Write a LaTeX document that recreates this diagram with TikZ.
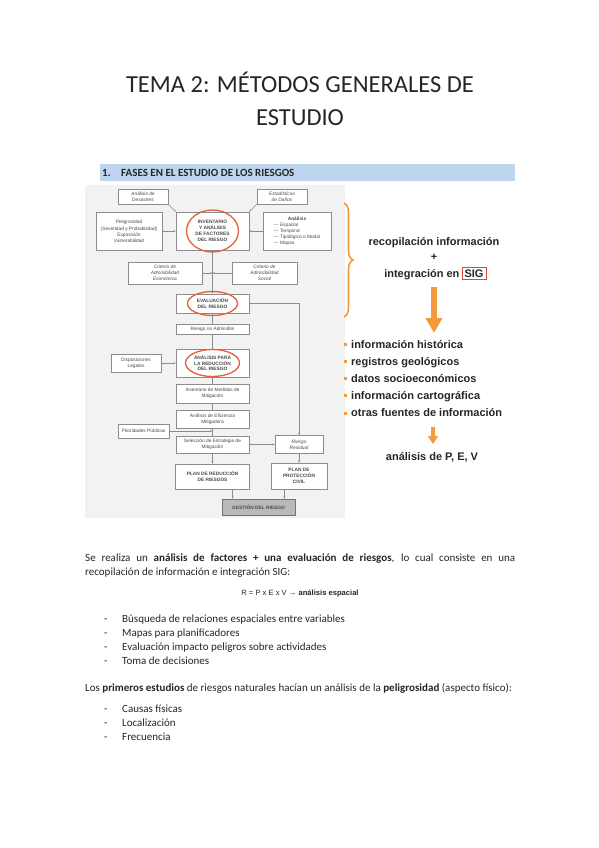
\documentclass[tikz,border=0pt]{standalone}
\usepackage{fontspec}
\setmainfont{Carlito}
\newfontfamily\arial{Liberation Sans}
\usepackage{tikz}
\usetikzlibrary{arrows.meta,calc,positioning,decorations.pathreplacing}
\definecolor{ink}{HTML}{262626}
\definecolor{bar}{HTML}{BDD6EE}
\definecolor{chartbg}{HTML}{F2F2F2}
\definecolor{boxline}{HTML}{8C8C8C}
\definecolor{boxtext}{HTML}{4A4A4A}
\definecolor{ring}{HTML}{E35F3D}
\definecolor{orng}{HTML}{F49A3C}
\definecolor{sigred}{HTML}{E0453A}
\definecolor{gest}{HTML}{B9B9B9}

\begin{document}
\begin{tikzpicture}[x=1pt,y=-1pt,
  caja/.style 2 args={draw=boxline,fill=white,line width=0.6pt,inner sep=0pt,align=center,text=boxtext,
    minimum width=#1,minimum height=#2,font=\arial\fontsize{4.8}{5.8}\selectfont},
  negrita/.style={font=\arial\bfseries\fontsize{4.8}{5.8}\selectfont},
  cursiva/.style={font=\arial\itshape\fontsize{4.8}{5.8}\selectfont},
  flecha/.style={draw=boxline,line width=0.5pt,-{Stealth[length=2.2pt,width=2pt]}},
  linea/.style={draw=boxline,line width=0.5pt},
  anillo/.style={draw=ring,line width=1.3pt},
  gordo/.style={font=\arial\bfseries\fontsize{11}{13}\selectfont,text=ink,inner sep=0pt},
  texto/.style={anchor=base west,inner sep=0pt,font=\fontsize{11}{13.4}\selectfont,text=ink}]
\fill[white] (0,0) rectangle (599,848);
\useasboundingbox (0,0) rectangle (599,848);

% title and section bar
\node[anchor=base,font=\fontsize{24.5}{29}\selectfont,text=ink] (tit1) at (300,93) {TEMA 2: MÉTODOS GENERALES DE};
\node[anchor=base,font=\fontsize{24.5}{29}\selectfont,text=ink] (tit2) at (300,125) {ESTUDIO};
\fill[bar] (100,164) rectangle (515,181);
\node[texto,font=\bfseries\fontsize{11}{13}\selectfont] (num) at (102,176.5) {1.};
\node[texto,font=\bfseries\fontsize{11}{13}\selectfont] (head) at (121,176.5) {FASES EN EL ESTUDIO DE LOS RIESGOS};

% flowchart
\fill[chartbg] (85,185) rectangle (345,518);
\node[caja={50pt}{15pt},cursiva] (desastres) at (143,196.5) {Análisis de\\Desastres};
\node[caja={50pt}{15pt},cursiva] (danos) at (282,196.5) {Estadísticas\\de Daños};
\node[caja={66pt}{38pt}] (pelig) at (129,231) {Peligrosidad\\[2pt](Severidad y Probabilidad)\\Exposición\\Vulnerabilidad};
\node[caja={73pt}{38pt},negrita] (invent) at (212.5,231) {INVENTARIO\\Y ANÁLISIS\\DE FACTORES\\DEL RIESGO};
\node[caja={68pt}{38pt}] (analisis) at (297,231) {\begin{tabular}{@{}l@{}}\multicolumn{1}{@{}c@{}}{\bfseries Análisis}\\[1pt]--- Espacial\\--- Temporal\\--- Tipológico o Modal\\--- Mapas\end{tabular}};
\node[caja={74pt}{22pt},cursiva] (critEco) at (165,273) {Criterio de\\Admisibilidad\\Económica};
\node[caja={65pt}{22pt},cursiva] (critSoc) at (264.5,273) {Criterio de\\Admisibilidad\\Social};
\node[caja={73pt}{19pt},negrita] (eval) at (212.5,303.5) {EVALUACIÓN\\DEL RIESGO};
\node[caja={73pt}{10pt}] (noadm) at (212.5,329) {Riesgo no Admisible};
\node[caja={73pt}{28pt},negrita] (reduc) at (212.5,363) {ANÁLISIS PARA\\LA REDUCCIÓN\\DEL RIESGO};
\node[caja={50pt}{18pt}] (dispo) at (136,363) {Disposiciones\\Legales};
\node[caja={73pt}{19pt}] (invmed) at (212.5,393.5) {Inventario de Medidas de\\Mitigación};
\node[caja={73pt}{18pt}] (efic) at (212.5,419) {Análisis de Eficiencia\\Mitigadora};
\node[caja={51pt}{14pt}] (prior) at (143.5,431) {Prioridades Públicas};
\node[caja={73pt}{17pt}] (selec) at (212.5,444.5) {Selección de Estrategia de\\Mitigación};
\node[caja={48pt}{18pt},cursiva] (resid) at (299,444.5) {Riesgo\\Residual};
\node[caja={74pt}{25pt},negrita] (planred) at (212.5,476.5) {PLAN DE REDUCCIÓN\\DE RIESGOS};
\node[caja={56pt}{26pt},negrita] (planprot) at (299,476) {PLAN DE\\PROTECCIÓN\\CIVIL};
\node[caja={73pt}{16pt},negrita,fill=gest,draw=black!55,text=black!70] (gestion) at (258.5,507) {GESTIÓN DEL RIESGO};

\draw[flecha] (desastres.south east) -- (invent.north west);
\draw[flecha] (danos.south west) -- (invent.north east);
\draw[flecha] (pelig) -- (invent); \draw[flecha] (analisis) -- (invent);
\draw[flecha] (invent) -- (eval);
\coordinate (cruce) at (invent |- critEco);
\draw[flecha] (critEco) -- (cruce); \draw[flecha] (critSoc) -- (cruce);
\draw[linea] (eval) -- (noadm); \draw[linea] (noadm) -- (reduc); \draw[linea] (reduc) -- (invmed);
\draw[linea] (invmed) -- (efic); \draw[linea] (efic) -- (selec);
\draw[flecha] (dispo) -- (reduc);
\draw[flecha] (prior) -- (prior -| selec);
\draw[flecha] (selec) -- (planred);
\draw[flecha] (selec.east) -- (selec.east -| resid.west);
\draw[flecha] (eval.east) -| (resid.north);
\draw[flecha] (resid) -- (planprot);
\draw[flecha] ([xshift=11pt]gestion.north west |- planred.south) -- ([xshift=11pt]gestion.north west);
\draw[flecha] ([xshift=-11pt]gestion.north east |- planprot.south) -- ([xshift=-11pt]gestion.north east);
\draw[anillo] (invent) ellipse [x radius=26, y radius=21];
\draw[anillo] (eval) ellipse [x radius=25, y radius=12];
\draw[anillo] (reduc) ellipse [x radius=27, y radius=13.5];

% right column
\draw[orng,line width=1.6pt,decorate,decoration={brace,amplitude=9pt}] (344,203) -- (344,317);
\node[gordo] (recop) at (434,243) {recopilación información};
\node[gordo] (mas) at (434,257) {+};
\node[gordo,draw=sigred,line width=0.8pt,inner xsep=2.5pt,inner ysep=2pt] (sig) at (474,273.5) {SIG};
\node[gordo,anchor=base east] (integ) at ([xshift=-2pt]sig.base west) {integración en};
\coordinate (bigtop) at (434,287); \coordinate (bigend) at (434,333);
\draw[orng,line width=6pt,-{Triangle[length=15pt,width=16pt]}] (bigtop) -- (bigend);
\foreach \t [count=\i] in {información histórica,registros geológicos,datos socioeconómicos,información cartográfica,otras fuentes de información}{
  \node[gordo,anchor=base west] (b\i) at (351,330.8+17.2*\i) {\t};
  \fill[orng] ($(b\i.base west)+(-7.5,-2.3)$) rectangle +(3,-3);
}
\coordinate (smtop) at (433,427); \coordinate (smend) at (433,444);
\draw[orng,line width=3.5pt,-{Triangle[length=8pt,width=10pt]}] (smtop) -- (smend);
\node[gordo] (pev) at (432,457) {análisis de P, E, V};

% body text
\node[texto] (p1) at (85,561) {\makebox[430pt][s]{Se realiza un \textbf{análisis de factores + una evaluación de riesgos}, lo cual consiste en una}};
\node[texto] (p2) at (85,575) {recopilación de información e integración SIG:};
\node[texto,anchor=base,font=\arial\fontsize{7.6}{9}\selectfont] (formula) at (300,595) {R = P x E x V → \textbf{análisis espacial}};
\foreach \t [count=\i] in {Búsqueda de relaciones espaciales entre variables,Mapas para planificadores,Evaluación impacto peligros sobre actividades,Toma de decisiones}{
  \node[texto] (gd\i) at (104,608+14*\i) {-}; \node[texto] (g\i) at (122,608+14*\i) {\t};
}
\node[texto] (p3) at (85,691) {Los \textbf{primeros estudios} de riesgos naturales hacían un análisis de la \textbf{peligrosidad} (aspecto físico):};
\foreach \t [count=\i] in {Causas físicas,Localización,Frecuencia}{
  \node[texto] (cd\i) at (104,698+14*\i) {-}; \node[texto] (c\i) at (122,698+14*\i) {\t};
}
\end{tikzpicture}
\end{document}
